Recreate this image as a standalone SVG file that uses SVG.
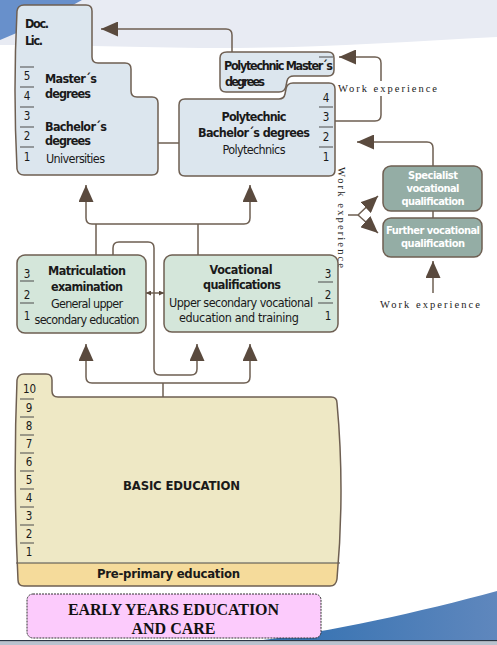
<svg xmlns="http://www.w3.org/2000/svg" width="497" height="645" viewBox="0 0 497 645">
<style>
.nd{stroke:#6e5f52;stroke-width:1.5}
.b{font-family:"DejaVu Sans Condensed","DejaVu Sans",sans-serif;font-weight:bold;font-size:12.5px;fill:#1a1a1a}
.r{font-family:"DejaVu Sans Condensed","DejaVu Sans",sans-serif;font-size:12.5px;fill:#1a1a1a}
.n{font-family:"DejaVu Sans Condensed","DejaVu Sans",sans-serif;font-size:11.5px;fill:#1a1a1a;text-anchor:middle}
.w{font-family:"DejaVu Sans Condensed","DejaVu Sans",sans-serif;font-weight:bold;font-size:11px;fill:#ffffff;text-anchor:middle}
.m{text-anchor:middle}
.sep{stroke:#4a4a4a;stroke-width:1}
.we{font-family:"Liberation Serif","Times New Roman",serif;font-size:10.5px;fill:#222}
.cn{fill:none;stroke:#6e5f52;stroke-width:1.5}
</style>
<defs>
<marker id="ah" markerUnits="userSpaceOnUse" markerWidth="17" markerHeight="15" viewBox="0 0 17 15" refX="17" refY="7.5" orient="auto-start-reverse">
<path d="M0,0 L17,7.5 L0,15 Z" fill="#5a4a3e"/>
</marker>
<marker id="am" markerUnits="userSpaceOnUse" markerWidth="10" markerHeight="10" viewBox="0 0 10 10" refX="10" refY="5" orient="auto-start-reverse">
<path d="M0,0 L10,5 L0,10 Z" fill="#5a4a3e"/>
</marker>
<marker id="as" markerUnits="userSpaceOnUse" markerWidth="5" markerHeight="5" viewBox="0 0 5 5" refX="5" refY="2.5" orient="auto-start-reverse">
<path d="M0,0 L5,2.5 L0,5 Z" fill="#5a4a3e"/>
</marker>
<linearGradient id="gb" x1="0" y1="0" x2="1" y2="0">
<stop offset="0" stop-color="#2f6fb0"/>
<stop offset="1" stop-color="#5f87bd"/>
</linearGradient>
<clipPath id="bc">
<path d="M24,374 H46 Q52,374 52,380 V391 Q52,397 58,397 H331 Q337,397 337,403 Q345,490 337,579 Q336,586 330,586 H24 Q18,586 18,580 Q13,480 17,380 Q18,374 24,374 Z"/>
</clipPath>
</defs>

<g id="background">
<rect x="0" y="0" width="497" height="645" fill="#ffffff"/>
<path d="M0,0 H497 V37 C400,42 300,49 200,48 C120,47 60,45 0,45 Z" fill="#e8ebf3"/>
<path d="M0,0 H82 C60,12 30,28 0,40 Z" fill="#6890cb"/>
<path d="M255,641 C330,632 420,612 497,591 V641 Z" fill="url(#gb)"/>
<rect x="0" y="640" width="497" height="1.5" fill="#2b3644"/>
<rect x="0" y="641.5" width="497" height="3.5" fill="#b9c3cf"/>
</g>

<g id="connectors">
<path class="cn" d="M232,52 V35 Q232,29 226,29 H101" marker-end="url(#ah)"/>
<path class="cn" d="M335,121 H375 Q381,121 381,115 V63 Q381,57 375,57 H339" marker-end="url(#ah)"/>
<path class="cn" d="M433,166 V148 Q433,142 427,142 H357" marker-end="url(#ah)"/>
<path class="cn" d="M433,211 V218"/>
<path class="cn" d="M433,293 V261" marker-end="url(#ah)"/>
<path class="cn" d="M348,215 H358 L378,196" marker-end="url(#ah)"/>
<path class="cn" d="M358,215 L378,233" marker-end="url(#ah)"/>
<path class="cn" d="M143,143 H192" marker-start="url(#am)" marker-end="url(#am)"/>
<path class="cn" d="M86,185 V218 Q86,224 92,224 H244 Q250,224 250,218 V185" marker-start="url(#ah)" marker-end="url(#ah)"/>
<path class="cn" d="M96,224 V255 M198,224 V255"/>
<path class="cn" d="M113,255 V248 Q113,242 119,242 H148 Q154,242 154,248 V369 Q154,375 160,375 H191 Q197,375 197,369 V344" marker-end="url(#ah)"/>
<path class="cn" d="M86,344 V377 Q86,383 92,383 H244 Q250,383 250,377 V344" marker-start="url(#ah)" marker-end="url(#ah)"/>
<path class="cn" d="M163,383 V397"/>
<path class="cn" d="M146,293 H164" stroke-width="1" marker-start="url(#as)" marker-end="url(#as)"/>
<rect x="336" y="81" width="104" height="15" fill="#ffffff"/>
<text class="we" x="338" y="92" textLength="99">Work experience</text>
<text class="we" x="380" y="308" textLength="100">Work experience</text>
<text class="we" x="338" y="167" textLength="101" transform="rotate(90 338 167)">Work experience</text>
</g>

<g id="universities">
<path class="nd" fill="#dce6ee" d="M24,5 H86 Q92,5 92,11 V57 Q92,63 98,63 H125 Q131,63 131,69 V91 Q131,97 137,97 H152 Q158,97 158,103 V169 Q158,175 152,175 H24 Q18,175 17,169 Q13,90 17,11 Q18,5 24,5 Z"/>
<text class="b" x="25" y="28" textLength="24">Doc.</text>
<text class="b" x="25" y="45" textLength="18">Lic.</text>
<path class="sep" d="M20,67 H34 M20,87 H34 M20,107 H34 M20,127 H34 M20,147 H34"/>
<text class="n" x="27" y="80">5</text>
<text class="n" x="27" y="100">4</text>
<text class="n" x="27" y="120">3</text>
<text class="n" x="27" y="140">2</text>
<text class="n" x="27" y="161">1</text>
<text class="b" x="45" y="83" textLength="52">Master´s</text>
<text class="b" x="45" y="98" textLength="46">degrees</text>
<text class="b" x="45" y="131" textLength="62">Bachelor´s</text>
<text class="b" x="45" y="145" textLength="46">degrees</text>
<text class="r" x="46" y="163" textLength="59">Universities</text>
</g>

<g id="poly-master">
<path class="nd" fill="#dce6ee" d="M227,52 H328 Q334,52 334,58 V70 Q334,76 328,76 H294 Q288,76 287,81 L286,86 Q285,92 279,92 H226 Q220,92 220,86 V58 Q220,52 227,52 Z"/>
<path class="sep" d="M319,57 H333"/>
<text class="b" x="224" y="70" textLength="109">Polytechnic Master´s</text>
<text class="b" x="225" y="86" textLength="40">degrees</text>
</g>

<g id="poly-bachelor">
<path class="nd" fill="#dce6ee" d="M185,99 H279 Q284,99 285,94 L286,89 Q287,83 293,83 H329 Q335,83 335,89 V170 Q335,176 329,176 H185 Q179,176 179,170 V105 Q179,99 185,99 Z"/>
<path class="sep" d="M319,107 H333 M319,127 H333 M319,147 H333"/>
<text class="n" x="326" y="102">4</text>
<text class="n" x="326" y="121">3</text>
<text class="n" x="326" y="141">2</text>
<text class="n" x="326" y="161">1</text>
<text class="b m" x="254" y="121" textLength="65">Polytechnic</text>
<text class="b m" x="254" y="137" textLength="112">Bachelor´s degrees</text>
<text class="r m" x="254" y="154" textLength="63">Polytechnics</text>
</g>

<g id="specialist">
<rect class="nd" x="383" y="166" width="99" height="45" rx="8" fill="#94ada5"/>
<text class="w" x="433" y="179" textLength="50">Specialist</text>
<text class="w" x="433" y="192" textLength="53">vocational</text>
<text class="w" x="433" y="205" textLength="63">qualification</text>
</g>

<g id="further">
<rect class="nd" x="383" y="218" width="99" height="39" rx="8" fill="#94ada5"/>
<text class="w" x="433" y="234" textLength="94">Further vocational</text>
<text class="w" x="433" y="247" textLength="64">qualification</text>
</g>

<g id="matriculation">
<rect class="nd" x="17" y="255" width="129" height="78" rx="8" fill="#d4e6da"/>
<path class="sep" d="M20,281 H34 M20,303 H34"/>
<text class="n" x="27" y="278">3</text>
<text class="n" x="27" y="299">2</text>
<text class="n" x="27" y="320">1</text>
<text class="b m" x="87" y="275" textLength="78">Matriculation</text>
<text class="b m" x="87" y="291" textLength="72">examination</text>
<text class="r m" x="87" y="308" textLength="72">General upper</text>
<text class="r m" x="87" y="324" textLength="105">secondary education</text>
</g>

<g id="vocational">
<rect class="nd" x="164" y="255" width="174" height="77" rx="8" fill="#d4e6da"/>
<path class="sep" d="M318,282 H333 M318,303 H333"/>
<text class="n" x="328" y="278">3</text>
<text class="n" x="328" y="299">2</text>
<text class="n" x="328" y="320">1</text>
<text class="b m" x="241" y="274" textLength="63">Vocational</text>
<text class="b m" x="242" y="289" textLength="78">qualifications</text>
<text class="r m" x="241" y="307" textLength="144">Upper secondary vocational</text>
<text class="r m" x="239" y="322" textLength="120">education and training</text>
</g>

<g id="basic-education">
<path fill="#eee8c5" d="M24,374 H46 Q52,374 52,380 V391 Q52,397 58,397 H331 Q337,397 337,403 Q345,490 337,579 Q336,586 330,586 H24 Q18,586 18,580 Q13,480 17,380 Q18,374 24,374 Z"/>
<rect x="10" y="563" width="340" height="30" fill="#f5db9b" clip-path="url(#bc)"/>
<path class="sep" d="M16,563 H340" stroke="#6e5f52" stroke-width="1.2"/>
<path class="nd" fill="none" d="M24,374 H46 Q52,374 52,380 V391 Q52,397 58,397 H331 Q337,397 337,403 Q345,490 337,579 Q336,586 330,586 H24 Q18,586 18,580 Q13,480 17,380 Q18,374 24,374 Z"/>
<path class="sep" d="M20,399 H34 M20,417 H34 M20,435 H34 M20,453 H34 M20,471 H34 M20,489 H34 M20,507 H34 M20,525 H34 M20,543 H34"/>
<text class="n" x="29.5" y="393">10</text>
<text class="n" x="29" y="412">9</text>
<text class="n" x="29" y="430">8</text>
<text class="n" x="29" y="448">7</text>
<text class="n" x="29" y="466">6</text>
<text class="n" x="29" y="484">5</text>
<text class="n" x="29" y="502">4</text>
<text class="n" x="29" y="520">3</text>
<text class="n" x="29" y="538">2</text>
<text class="n" x="29" y="556">1</text>
<text class="b m" x="181.5" y="490" textLength="117" style="font-size:13px">BASIC EDUCATION</text>
<text class="b m" x="168.5" y="578" textLength="143" style="font-size:13px">Pre-primary education</text>
</g>

<g id="early-years">
<rect x="27" y="594" width="294" height="44" rx="6" fill="#fccbfc" stroke="#333" stroke-width="1" stroke-dasharray="2,1"/>
<text x="173.5" y="615" text-anchor="middle" font-family="Liberation Serif,'Times New Roman',serif" font-weight="bold" font-size="16" fill="#111" textLength="211">EARLY YEARS EDUCATION</text>
<text x="173.5" y="634" text-anchor="middle" font-family="Liberation Serif,'Times New Roman',serif" font-weight="bold" font-size="16" fill="#111">AND CARE</text>
</g>
</svg>
